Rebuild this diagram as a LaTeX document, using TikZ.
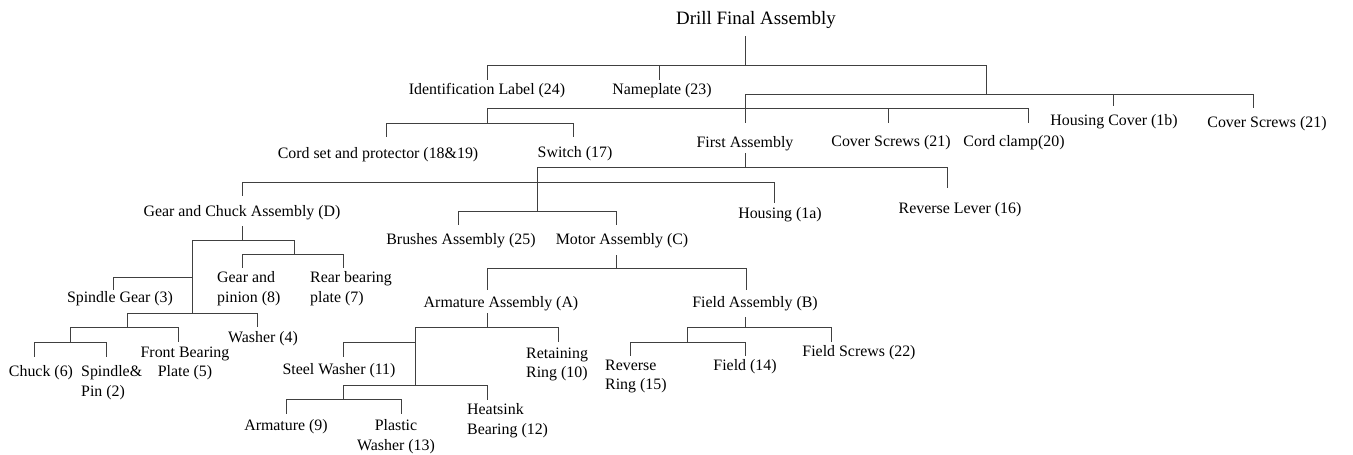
\documentclass[tikz,border=0pt]{standalone}
\usepackage{fontspec}
\setmainfont{Liberation Serif}
\tikzset{
  lbl/.style={font=\fontsize{15.9}{19.3}\selectfont, inner xsep=0pt, text height=11pt, text depth=3.5pt, anchor=base},
  ml/.style={font=\fontsize{15.9}{19.3}\selectfont, inner xsep=0pt, anchor=north west, align=left},
  mlc/.style={font=\fontsize{15.9}{19.3}\selectfont, inner xsep=0pt, anchor=north, align=center},
  ttl/.style={font=\fontsize{18.9}{22}\selectfont, inner sep=0pt, anchor=base},
  conn/.style={line width=0.9pt, draw=black!75}
}
\begin{document}
\begin{tikzpicture}[x=1pt,y=-1pt]
\useasboundingbox (0,0) rectangle (1353,455);
% nodes
\node[ttl] (drill) at (756,24) {Drill Final Assembly};
\node[lbl, inner ysep=3.5pt] (ident) at (487,94.5) {Identification Label (24)};
\node[lbl, inner ysep=3.5pt] (name) at (662,94.5) {Nameplate (23)};
\node[lbl, inner ysep=10.5pt] (cord) at (378,158.5) {Cord set and protector (18\&19)};
\node[lbl, inner ysep=9.5pt] (switch) at (575,157.5) {Switch (17)};
\node[lbl, inner ysep=13.5pt] (first) at (745,147.5) {First Assembly};
\node[lbl, inner ysep=12.5pt] (cscrA) at (891,146.5) {Cover Screws (21)};
\node[lbl, inner ysep=12.5pt] (clamp) at (1014,146.5) {Cord clamp(20)};
\node[lbl, inner ysep=8.5pt] (hcover) at (1114,125.5) {Housing Cover (1b)};
\node[lbl, inner ysep=8.5pt] (cscrB) at (1267,127.5) {Cover Screws (21)};
\node[lbl, inner ysep=9.5pt] (gear) at (242,216.5) {Gear and Chuck Assembly (D)};
\node[lbl, inner ysep=4.5pt] (housing) at (780,218.5) {Housing (1a)};
\node[lbl, inner ysep=14.5pt] (revlev) at (960,213.5) {Reverse Lever (16)};
\node[lbl, inner ysep=8.5pt] (brush) at (461,244.5) {Brushes Assembly (25)};
\node[lbl, inner ysep=8.5pt] (motor) at (622,244.5) {Motor Assembly (C)};
\node[lbl, inner ysep=6.5pt] (arma) at (501,307.5) {Armature Assembly (A)};
\node[lbl, inner ysep=6.5pt] (fieldb) at (755,307.5) {Field Assembly (B)};
\node[ml, inner ysep=3.6pt] (pinion) at (217,268) {Gear and\\pinion (8)};
\node[ml, inner ysep=3.6pt] (rear) at (310,268) {Rear bearing\\plate (7)};
\node[lbl, inner ysep=1.5pt] (spgear) at (120,302.5) {Spindle Gear (3)};
\node[lbl, inner ysep=4.5pt] (washer) at (263,342.5) {Washer (4)};
\node[mlc, inner ysep=4.6pt] (front) at (185,342) {Front Bearing\\Plate (5)};
\node[lbl, inner ysep=8.5pt] (chuck) at (41,376.5) {Chuck (6)};
\node[ml, inner ysep=8.6pt] (spindle) at (81,357) {Spindle\&\\Pin (2)};
\node[lbl, inner ysep=6.5pt] (steel) at (339,374.5) {Steel Washer (11)};
\node[ml, inner ysep=5.6pt] (retain) at (526,342) {Retaining\\Ring (10)};
\node[lbl, inner ysep=5.5pt] (arm9) at (286,430.5) {Armature (9)};
\node[mlc, inner ysep=5.6pt] (plastic) at (396,414) {Plastic\\Washer (13)};
\node[ml, inner ysep=3.6pt] (heat) at (467,400) {Heatsink\\Bearing (12)};
\node[lbl, inner ysep=3.5pt] (fscr) at (859,356.5) {Field Screws (22)};
\node[lbl, inner ysep=3.5pt] (field) at (745,370.5) {Field (14)};
\node[ml, inner ysep=3.6pt] (revring) at (605,356) {Reverse\\Ring (15)};
% junctions
\coordinate (a0) at (745,65); \coordinate (aL) at (487,65);
\coordinate (aN) at (659,65); \coordinate (aR) at (986,65);
\coordinate (bR) at (986,94); \coordinate (bL) at (745,94);
\coordinate (bH) at (1113,94); \coordinate (bC) at (1253,94);
\coordinate (cL) at (487,108); \coordinate (cS) at (888,108);
\coordinate (cR) at (1028,108);
\coordinate (dM) at (487,123); \coordinate (dL) at (386,123);
\coordinate (dR) at (573,123);
\coordinate (eM) at (745,167); \coordinate (eL) at (537,167);
\coordinate (eR) at (947,167);
\coordinate (fM) at (537,211); \coordinate (fL) at (458,211);
\coordinate (fR) at (616,211);
\coordinate (gL) at (242,182); \coordinate (gR) at (774,182);
\coordinate (hM) at (242,240); \coordinate (hL) at (192,240);
\coordinate (hR) at (294,240);
\coordinate (iM) at (294,254); \coordinate (iL) at (242,254);
\coordinate (iR) at (343,254);
\coordinate (jT) at (192,277); \coordinate (jL) at (113,277);
\coordinate (kM) at (192,313); \coordinate (kL) at (127,313);
\coordinate (kR) at (257,313);
\coordinate (lM) at (127,327); \coordinate (lL) at (70,327);
\coordinate (lR) at (178,327);
\coordinate (mM) at (70,342); \coordinate (mL) at (34,342);
\coordinate (mR) at (106,342);
\coordinate (nM) at (616,268); \coordinate (nL) at (487,268);
\coordinate (nR) at (746,268);
\coordinate (oM) at (487,327); \coordinate (oL) at (415,327);
\coordinate (oR) at (558,327);
\coordinate (pT) at (415,342); \coordinate (pL) at (343,342);
\coordinate (qM) at (415,385); \coordinate (qL) at (343,385);
\coordinate (qR) at (487,385);
\coordinate (rM) at (343,399); \coordinate (rL) at (286,399);
\coordinate (rR) at (401,399);
\coordinate (sM) at (745,327); \coordinate (sL) at (687,327);
\coordinate (sR) at (831,327);
\coordinate (tM) at (687,342); \coordinate (tL) at (630,342);
\coordinate (tR) at (745,342);
% connectors: top level
\draw[conn] (a0 |- drill.base) ++(0,12) -- (a0);
\draw[conn] (aL) -- (aR) -- (bR);
\draw[conn] (aL) -- (aL |- ident.north);
\draw[conn] (aN) -- (aN |- name.north);
\draw[conn] (bL) -- (bC);
\draw[conn] (bL) -- (bL |- first.north);
\draw[conn] (bH) -- (bH |- hcover.north);
\draw[conn] (bC) -- (bC |- cscrB.north);
\draw[conn] (cL) -- (cR) -- (cR |- clamp.north);
\draw[conn] (cS) -- (cS |- cscrA.north);
\draw[conn] (cL) -- (dM);
\draw[conn] (dL) -- (dR);
\draw[conn] (dL) -- (dL |- cord.north);
\draw[conn] (dR) -- (dR |- switch.north);
% first assembly
\draw[conn] (eM |- first.base) ++(0,5.5) -- (eM);
\draw[conn] (eL) -- (eR) -- (eR |- revlev.north);
\draw[conn] (eL) -- (fM);
\draw[conn] (fL) -- (fR);
\draw[conn] (fL) -- (fL |- brush.north);
\draw[conn] (fR) -- (fR |- motor.north);
\draw[conn] (gL) -- (gR) -- (gR |- housing.north);
\draw[conn] (gL) -- (gL |- gear.north);
% gear and chuck
\draw[conn] (hM |- gear.base) ++(0,9.5) -- (hM);
\draw[conn] (hL) -- (hR) -- (iM);
\draw[conn] (iL) -- (iR);
\draw[conn] (iL) -- (iL |- pinion.north);
\draw[conn] (iR) -- (iR |- rear.north);
\draw[conn] (hL) -- (kM);
\draw[conn] (jT) -- (jL) -- (jL |- spgear.north);
\draw[conn] (kL) -- (kR) -- (kR |- washer.north);
\draw[conn] (kL) -- (lM);
\draw[conn] (lL) -- (lR) -- (lR |- front.north);
\draw[conn] (lL) -- (mM);
\draw[conn] (mL) -- (mR);
\draw[conn] (mL) -- (mL |- chuck.north);
\draw[conn] (mR) -- (mR |- spindle.north);
% motor
\draw[conn] (nM |- motor.base) ++(0,10.5) -- (nM);
\draw[conn] (nL) -- (nR);
\draw[conn] (nL) -- (nL |- arma.north);
\draw[conn] (nR) -- (nR |- fieldb.north);
% armature assembly
\draw[conn] (oM |- arma.base) ++(0,5.5) -- (oM);
\draw[conn] (oL) -- (oR) -- (oR |- retain.north);
\draw[conn] (oL) -- (qM);
\draw[conn] (pT) -- (pL) -- (pL |- steel.north);
\draw[conn] (qL) -- (qR) -- (qR |- heat.north);
\draw[conn] (qL) -- (rM);
\draw[conn] (rL) -- (rR);
\draw[conn] (rL) -- (rL |- arm9.north);
\draw[conn] (rR) -- (rR |- plastic.north);
% field assembly
\draw[conn] (sM |- fieldb.base) ++(0,9.5) -- (sM);
\draw[conn] (sL) -- (sR) -- (sR |- fscr.north);
\draw[conn] (sL) -- (tM);
\draw[conn] (tL) -- (tR);
\draw[conn] (tL) -- (tL |- revring.north);
\draw[conn] (tR) -- (tR |- field.north);
\end{tikzpicture}
\end{document}
